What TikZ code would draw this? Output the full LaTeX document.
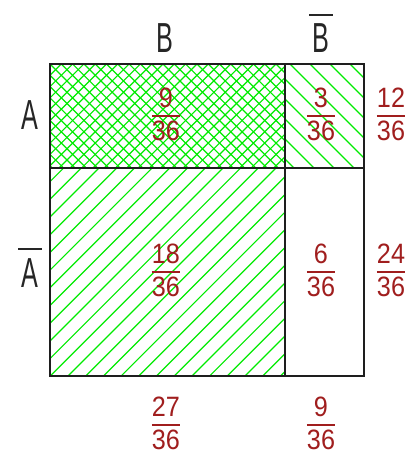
\documentclass[tikz,border=0pt]{standalone}
\usepackage{fontspec}
\newfontfamily\lblfont{Liberation Sans}[FakeStretch=0.6]
\newfontfamily\numfont{Liberation Sans}[FakeStretch=0.9]
\definecolor{hatchgreen}{RGB}{0,235,0}
\definecolor{numred}{RGB}{160,30,30}
\definecolor{gridblack}{RGB}{30,30,30}
\newcommand\fr[2]{\setbox2\hbox{#2}\vbox{\hbox to \wd2{\hss#1\hss}\kern7pt\hrule height 2pt\kern4pt\box2}}
\newcommand\barred[1]{\vbox{\hrule height 2pt width 24pt\kern8pt\hbox to 24pt{\hss#1\hss}}}
\begin{document}
\begin{tikzpicture}[x=1pt,y=-1pt,
  num/.style={font=\numfont\fontsize{28}{30}\selectfont, text=numred, inner sep=0pt, anchor=north},
  lbl/.style={font=\lblfont\fontsize{42}{46}\selectfont, text=black!85, inner sep=0pt, anchor=base},
  gridline/.style={draw=gridblack, line width=1.8pt},
  hatchline/.style={draw=hatchgreen, line width=1.2pt}]
\useasboundingbox (0,0) rectangle (411,454);
\fill[white] (0,0) rectangle (411,454);
% top-left: cross hatch
\begin{scope}
  \clip (50,64) rectangle (285,168);
  \foreach \k in {-12,...,32} {
    \draw[hatchline] (50+\k*11.3,64) -- ++(-300,300);
    \draw[hatchline] (50+\k*11.3,64) -- ++(300,300);
  }
\end{scope}
% top-right: single hatch
\begin{scope}
  \clip (285,64) rectangle (364,168);
  \foreach \k in {-7,...,5} {
    \draw[hatchline] (290+\k*20,64) -- ++(300,300);
  }
\end{scope}
% bottom-left: single hatch
\begin{scope}
  \clip (50,168) rectangle (285,376);
  \foreach \k in {-1,...,26} {
    \draw[hatchline] (63.6+\k*17.7,168) -- ++(-300,300);
  }
\end{scope}
% grid
\draw[gridline] (50,64) rectangle (364,376);
\draw[gridline] (50,168) -- (364,168);
\draw[gridline] (285,64) -- (285,376);
% labels
\node[lbl] (lB) at (165,53) {B};
\node[lbl] (lnB) at (321,53) {\barred{B}};
\node[lbl] (lA) at (30,130) {A};
\node[lbl] (lnA) at (30,287) {\barred{A}};
% fractions
\node[num] (f11) at (166,88) {\fr{9}{36}};
\node[num] (f12) at (321,88) {\fr{3}{36}};
\node[num] (f13) at (391,88) {\fr{12}{36}};
\node[num] (f21) at (166,244) {\fr{18}{36}};
\node[num] (f22) at (321,244) {\fr{6}{36}};
\node[num] (f23) at (391,244) {\fr{24}{36}};
\node[num] (f31) at (166,397) {\fr{27}{36}};
\node[num] (f32) at (321,397) {\fr{9}{36}};
\end{tikzpicture}
\end{document}
